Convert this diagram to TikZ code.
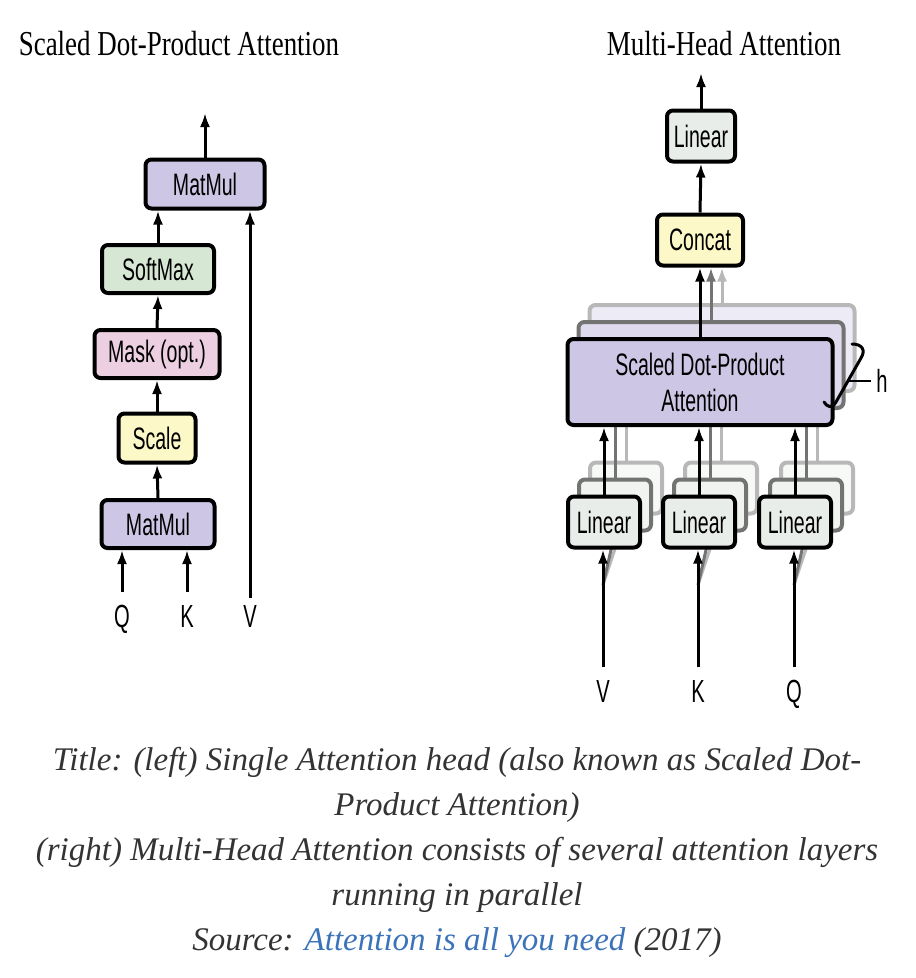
\documentclass[tikz,border=0pt]{standalone}
\usepackage{fontspec}
\setmainfont{Liberation Serif}
\newfontfamily\boxfont[FakeStretch=0.63]{Liberation Sans}
\newfontfamily\ttlfont[FakeStretch=0.77]{Liberation Serif}
\usetikzlibrary{calc, arrows.meta}
\definecolor{lav}{RGB}{205,198,228}
\definecolor{grn}{RGB}{214,232,212}
\definecolor{pnk}{RGB}{236,207,224}
\definecolor{yel}{RGB}{252,248,199}
\definecolor{lin}{RGB}{233,237,233}
\definecolor{link}{RGB}{59,115,185}
\tikzstyle{blk}=[draw, line width=4pt, rounded corners=6pt, inner sep=0pt, align=center, font=\boxfont\fontsize{31}{36}\selectfont]
\tikzstyle{lbl}=[anchor=base, inner sep=0pt, font=\boxfont\fontsize{32}{36}\selectfont]
\tikzstyle{ttl}=[anchor=base, font=\ttlfont\fontsize{35}{40}\selectfont]
\tikzstyle{captxt}=[anchor=base, text=black!80, font=\itshape\fontsize{33}{38}\selectfont]

\begin{document}
\begin{tikzpicture}[x=1pt,y=-1pt,>={Latex[length=14pt,width=10pt]},line width=3pt]
  \useasboundingbox (0,0) rectangle (916,978);
  % titles
  \node [ttl] (tl) at (179,55) {Scaled Dot-Product Attention};
  \node [ttl] (tr) at (724,55) {Multi-Head Attention};

  % single head
  \node [blk, fill=lav, minimum width=119pt, minimum height=49pt] (mm2) at (205,184) {MatMul};
  \node [blk, fill=grn, minimum width=112pt, minimum height=48pt] (sm) at (158,269) {SoftMax};
  \node [blk, fill=pnk, minimum width=125pt, minimum height=48pt] (mask) at (157,354) {Mask (opt.)};
  \node [blk, fill=yel, minimum width=77pt, minimum height=49pt] (scale) at (157,438) {Scale};
  \node [blk, fill=lav, minimum width=113pt, minimum height=48pt] (mm1) at (158,524) {MatMul};
  \node [lbl] (q) at (122,627) {Q};
  \node [lbl] (k) at (187,627) {K};
  \node [lbl] (v) at (250,627) {V};
  \coordinate (outl) at (205,113);
  \draw[->] (mm2.north) -- (outl);
  \draw[->] (sm.north) -- (sm.north |- mm2.south);
  \draw[->] (mask.north) -- (sm.south);
  \draw[->] (scale.north) -- (mask.south);
  \draw[->] (mm1.north) -- (scale.south);
  \draw[->] ([yshift=11pt]q.north) -- (q.north |- mm1.south);
  \draw[->] ([yshift=11pt]k.north) -- (k.north |- mm1.south);
  \draw[->] ([yshift=5pt]v.north) -- (v.north |- mm2.south);

  % multi head
  \node [blk, fill=lin, minimum width=68pt, minimum height=51pt] (lt) at (701,136) {Linear};
  \node [blk, fill=yel, minimum width=86pt, minimum height=51pt] (cc) at (700,240) {Concat};
  \coordinate (outr) at (701,73);
  \draw[->] (lt.north) -- (outr);
  \draw[->] (cc.north) -- (lt.south);
  \node [lbl] (vr) at (603,702) {V};
  \node [lbl] (kr) at (698,702) {K};
  \node [lbl] (qr) at (794,702) {Q};
  \coordinate (fv) at (603,585);
  \coordinate (fk) at (698,585);
  \coordinate (fq) at (794,585);

  % stacked heads behind
  \foreach \n/\tone/\tint in {2/28/35, 1/55/65}{
    \begin{scope}[shift={(11*\n,-17*\n)}]
      \node [blk, draw=black!\tone, fill=lav!\tint!white, minimum width=265pt, minimum height=86pt] (sd\n) at (700,382) {};
      \node [blk, draw=black!\tone, fill=lin!\tint!white, minimum width=72pt, minimum height=51pt] (lv\n) at (604,522) {};
      \node [blk, draw=black!\tone, fill=lin!\tint!white, minimum width=72pt, minimum height=51pt] (lk\n) at (699,522) {};
      \node [blk, draw=black!\tone, fill=lin!\tint!white, minimum width=72pt, minimum height=51pt] (lq\n) at (795,522) {};
    \end{scope}
    \draw[->, black!\tone] (sd\n.north) -- (sd\n.north |- cc.south);
    \draw[->, black!\tone] (lv\n.north) -- (lv\n.north |- sd\n.south);
    \draw[->, black!\tone] (lk\n.north) -- (lk\n.north |- sd\n.south);
    \draw[->, black!\tone] (lq\n.north) -- (lq\n.north |- sd\n.south);
    \draw[->, black!\tone] (fv) -- (lv\n.south);
    \draw[->, black!\tone] (fk) -- (lk\n.south);
    \draw[->, black!\tone] (fq) -- (lq\n.south);
  }

  % front head
  \node [blk, fill=lav, minimum width=265pt, minimum height=86pt] (sd) at (700,382) {Scaled Dot-Product\\Attention};
  \node [blk, fill=lin, minimum width=72pt, minimum height=51pt] (lv) at (604,522) {Linear};
  \node [blk, fill=lin, minimum width=72pt, minimum height=51pt] (lk) at (699,522) {Linear};
  \node [blk, fill=lin, minimum width=72pt, minimum height=51pt] (lq) at (795,522) {Linear};
  \draw[->] (sd.north) -- (sd.north |- cc.south);
  \draw[->] (lv.north) -- (lv.north |- sd.south);
  \draw[->] (lk.north) -- (lk.north |- sd.south);
  \draw[->] (lq.north) -- (lq.north |- sd.south);
  \draw[->] ([yshift=11pt]vr.north) -- (vr.north |- lv.south);
  \draw[->] ([yshift=11pt]kr.north) -- (kr.north |- lk.south);
  \draw[->] ([yshift=11pt]qr.north) -- (qr.north |- lq.south);

  % h bracket
  \coordinate (htip) at (849,381);
  \draw[line width=3pt, line cap=round] (852,344) .. controls (862,344) and (866,350) .. (861,358)
    -- (836,402) .. controls (832,409) and (827,407) .. (824,402);
  \node [lbl] (h) at (882,392) {h};
  \draw[line width=2.5pt] (htip) -- ([xshift=-4pt]h.west |- htip);

  % caption
  \node [captxt] (c1) at (457,770) {Title: (left) Single Attention head (also known as Scaled Dot-};
  \node [captxt] (c2) at (457,815) {Product Attention)};
  \node [captxt] (c3) at (457,860) {(right) Multi-Head Attention consists of several attention layers};
  \node [captxt] (c4) at (457,905) {running in parallel};
  \node [captxt] (c5) at (457,950) {Source: \textcolor{link}{Attention is all you need} (2017)};
\end{tikzpicture}
\end{document}
